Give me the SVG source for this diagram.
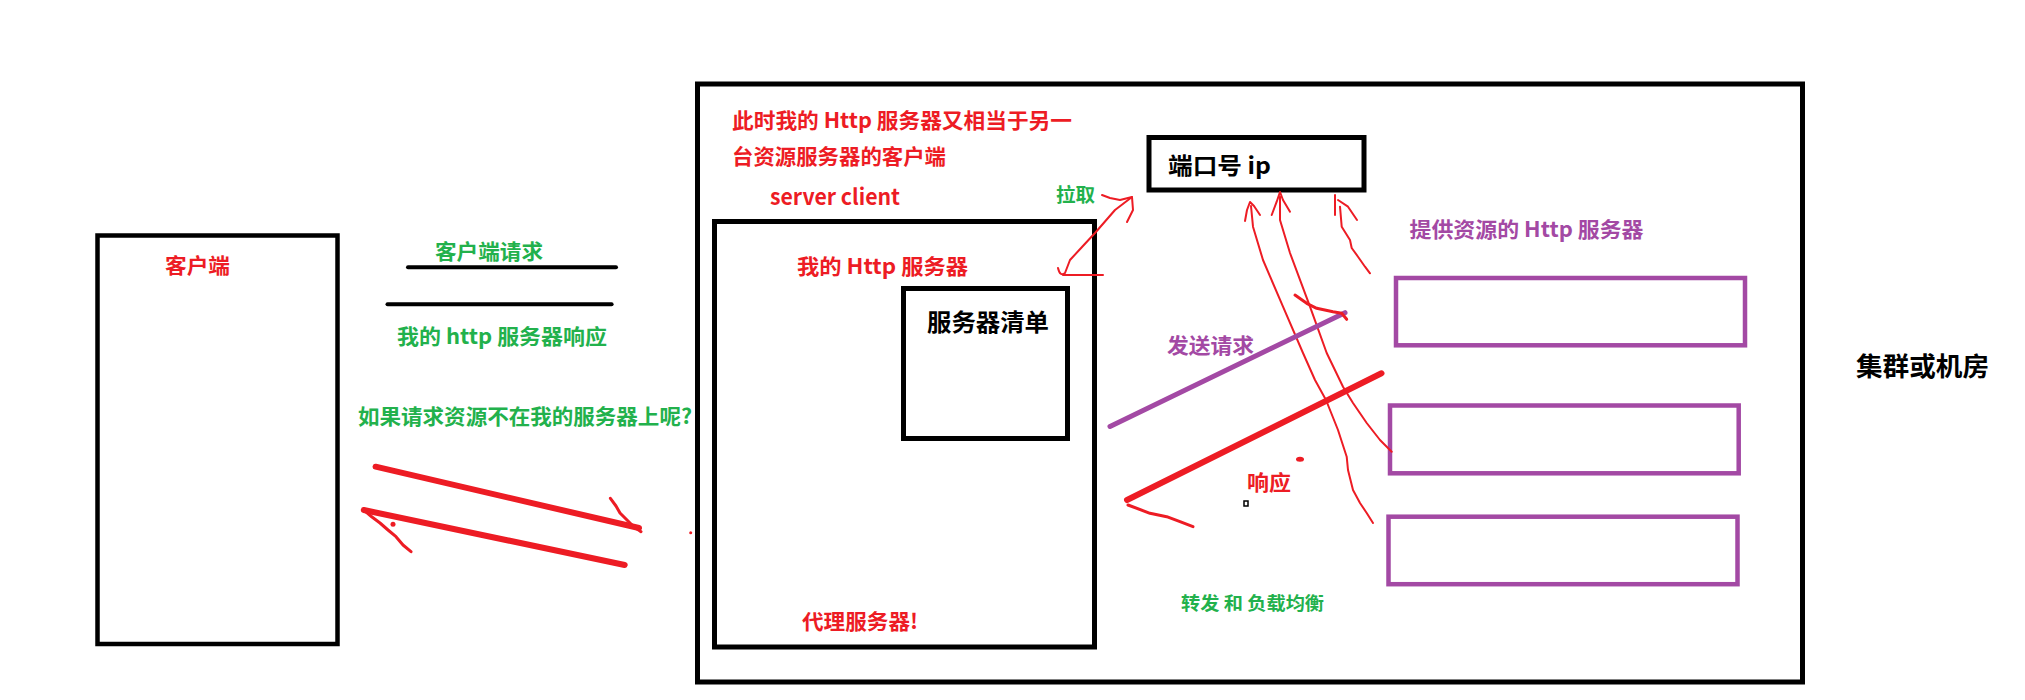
<svg xmlns="http://www.w3.org/2000/svg" width="2025" height="700" viewBox="0 0 2025 700">
<style>
.t{font-family:"Noto Sans CJK SC","Noto Sans",sans-serif;font-weight:bold}
.red{fill:#ED1C24}.grn{fill:#22B14C}.pur{fill:#A349A4}.blk{fill:#000}
.box{fill:#fff;stroke:#000;stroke-width:5}
.pbox{fill:#fff;stroke:#A349A4;stroke-width:4.5}
.thin{fill:none;stroke:#ED1C24;stroke-width:2;stroke-linecap:round;stroke-linejoin:round}
.mid{fill:none;stroke:#ED1C24;stroke-width:3;stroke-linecap:round;stroke-linejoin:round}
.thick{fill:none;stroke:#ED1C24;stroke-width:6;stroke-linecap:round}
.bl{fill:none;stroke:#000;stroke-width:4;stroke-linecap:round}
</style>
<rect width="2025" height="700" fill="#fff"/>
<g id="client">
<rect class="box" x="97.5" y="235.5" width="240" height="408.5" style="stroke-width:4.5"/>
<text class="t red" x="165" y="273" font-size="21" textLength="65" lengthAdjust="spacingAndGlyphs">客户端</text>
</g>
<g id="cluster">
<rect class="box" x="697.5" y="84" width="1105" height="598"/>
<text class="t blk" x="1856" y="376" font-size="26" textLength="133" lengthAdjust="spacingAndGlyphs">集群或机房</text>
</g>
<g id="note">
<text class="t red" x="732" y="128" font-size="21" textLength="340" lengthAdjust="spacingAndGlyphs">此时我的 Http 服务器又相当于另一</text>
<text class="t red" x="732" y="164" font-size="21" textLength="214" lengthAdjust="spacingAndGlyphs">台资源服务器的客户端</text>
<text class="t red" x="770" y="205" font-size="22" textLength="130" lengthAdjust="spacingAndGlyphs">server client</text>
</g>
<g id="proxy">
<rect class="box" x="714.5" y="221.5" width="380" height="425.5"/>
<text class="t red" x="797" y="274" font-size="21" textLength="171" lengthAdjust="spacingAndGlyphs">我的 Http 服务器</text>
<text class="t red" x="802" y="629" font-size="21" textLength="116" lengthAdjust="spacingAndGlyphs">代理服务器!</text>
</g>
<g id="serverlist">
<rect class="box" x="903.5" y="288.5" width="164" height="150"/>
<text class="t blk" x="927" y="330.5" font-size="24" textLength="122" lengthAdjust="spacingAndGlyphs">服务器清单</text>
</g>
<g id="portip">
<rect class="box" x="1149" y="137.5" width="215" height="52.5"/>
<text class="t blk" x="1168" y="174" font-size="23" textLength="103" lengthAdjust="spacingAndGlyphs">端口号 ip</text>
</g>
<g id="res1"><rect class="pbox" x="1396" y="278" width="349" height="67.3"/></g>
<g id="res2"><rect class="pbox" x="1390" y="405.5" width="348.7" height="67.8"/></g>
<g id="res3"><rect class="pbox" x="1388.5" y="516.7" width="349" height="67.5"/></g>
<g id="labels">
<text class="t grn" x="435" y="259" font-size="21" textLength="108" lengthAdjust="spacingAndGlyphs">客户端请求</text>
<text class="t grn" x="397" y="344" font-size="21" textLength="210" lengthAdjust="spacingAndGlyphs">我的 http 服务器响应</text>
<text class="t grn" x="358" y="424" font-size="21" textLength="334" lengthAdjust="spacingAndGlyphs">如果请求资源不在我的服务器上呢?</text>
<text class="t grn" x="1056" y="201.5" font-size="19" textLength="39" lengthAdjust="spacingAndGlyphs">拉取</text>
<text class="t pur" x="1167" y="352.5" font-size="21" textLength="87" lengthAdjust="spacingAndGlyphs">发送请求</text>
<text class="t pur" x="1409.5" y="236.5" font-size="21" textLength="234" lengthAdjust="spacingAndGlyphs">提供资源的 Http 服务器</text>
<text class="t red" x="1247" y="489.5" font-size="21" textLength="44" lengthAdjust="spacingAndGlyphs">响应</text>
<text class="t grn" x="1181" y="610" font-size="18" textLength="143" lengthAdjust="spacingAndGlyphs">转发 和 负载均衡</text>
</g>
<g id="connectors">
<path class="bl" d="M408,267.3 L616,267.3"/>
<path class="bl" d="M387.5,304.3 L611.6,304.3"/>
<path class="thick" d="M375.6,466.7 L639,528"/>
<path class="mid" d="M610.4,498.3 L616,506 L620,513 L627,520 L633,526 L641,531.7"/>
<path class="thick" d="M363.8,510 L624.7,565"/>
<path class="mid" d="M363.8,510 L372,517 L380,523 L388,530 L396,536.7 L403,545 L411,551.7"/>
<circle cx="393" cy="524.3" r="2.5" fill="#ED1C24"/>
<circle cx="690.7" cy="532.7" r="1.5" fill="#ED1C24"/>
<path class="thin" d="M1103,275 L1063,275"/>
<path class="thin" d="M1058,268 Q1060,277 1065,273 L1070,260 L1082,247 L1095,233 L1115,210 L1132,197"/>
<path class="thin" d="M1102,195 L1110,198 L1120,200 L1132,197 L1133,210 L1127,222"/>
<path class="thin" d="M1373,523 L1366.7,513 L1360,503 L1353,490 L1348,470 L1346.7,456.7 L1338,430 L1326,400 L1315,380 L1303,353 L1283,306.7 L1263,260 L1253,226.7 L1251,206"/>
<path class="thin" d="M1245,221 L1247,210 L1250,202 L1254,206 L1260,215"/>
<path class="thin" d="M1391.7,451.7 L1380,440 L1366.7,423 L1353,403 L1343,386.7 L1326.7,353 L1310,306.7 L1290,253 L1280,220 L1280,196.7"/>
<path class="thin" d="M1271.7,215 L1276.7,201.7 L1280,192 L1283,200 L1290,211.7"/>
<path class="thin" d="M1370,273.3 L1365,266.7 L1358,256.7 L1351.7,248 L1350,240 L1341.7,226.7 L1340,206.7"/>
<path class="thin" d="M1335,195 L1335,215"/>
<path class="thin" d="M1338,200 L1348,206.7 L1357,220"/>
<path d="M1110,426.5 L1345,312.7" fill="none" stroke="#A349A4" stroke-width="5" stroke-linecap="round"/>
<path class="mid" d="M1295,295 L1306.7,303.3 L1316.7,308.3 L1333,311.7 L1341.7,313.3 L1346.7,319.3"/>
<path class="thick" d="M1127,500 L1381.5,373.3"/>
<path class="mid" d="M1128,505 L1150,513.3 L1166.7,516.7 L1180,521.7 L1193,526.7"/>
<ellipse cx="1300" cy="459.3" rx="4" ry="2.5" fill="#ED1C24"/>
<rect x="1244" y="501" width="4" height="5" fill="#fff" stroke="#000" stroke-width="1.5"/>
</g>
</svg>
